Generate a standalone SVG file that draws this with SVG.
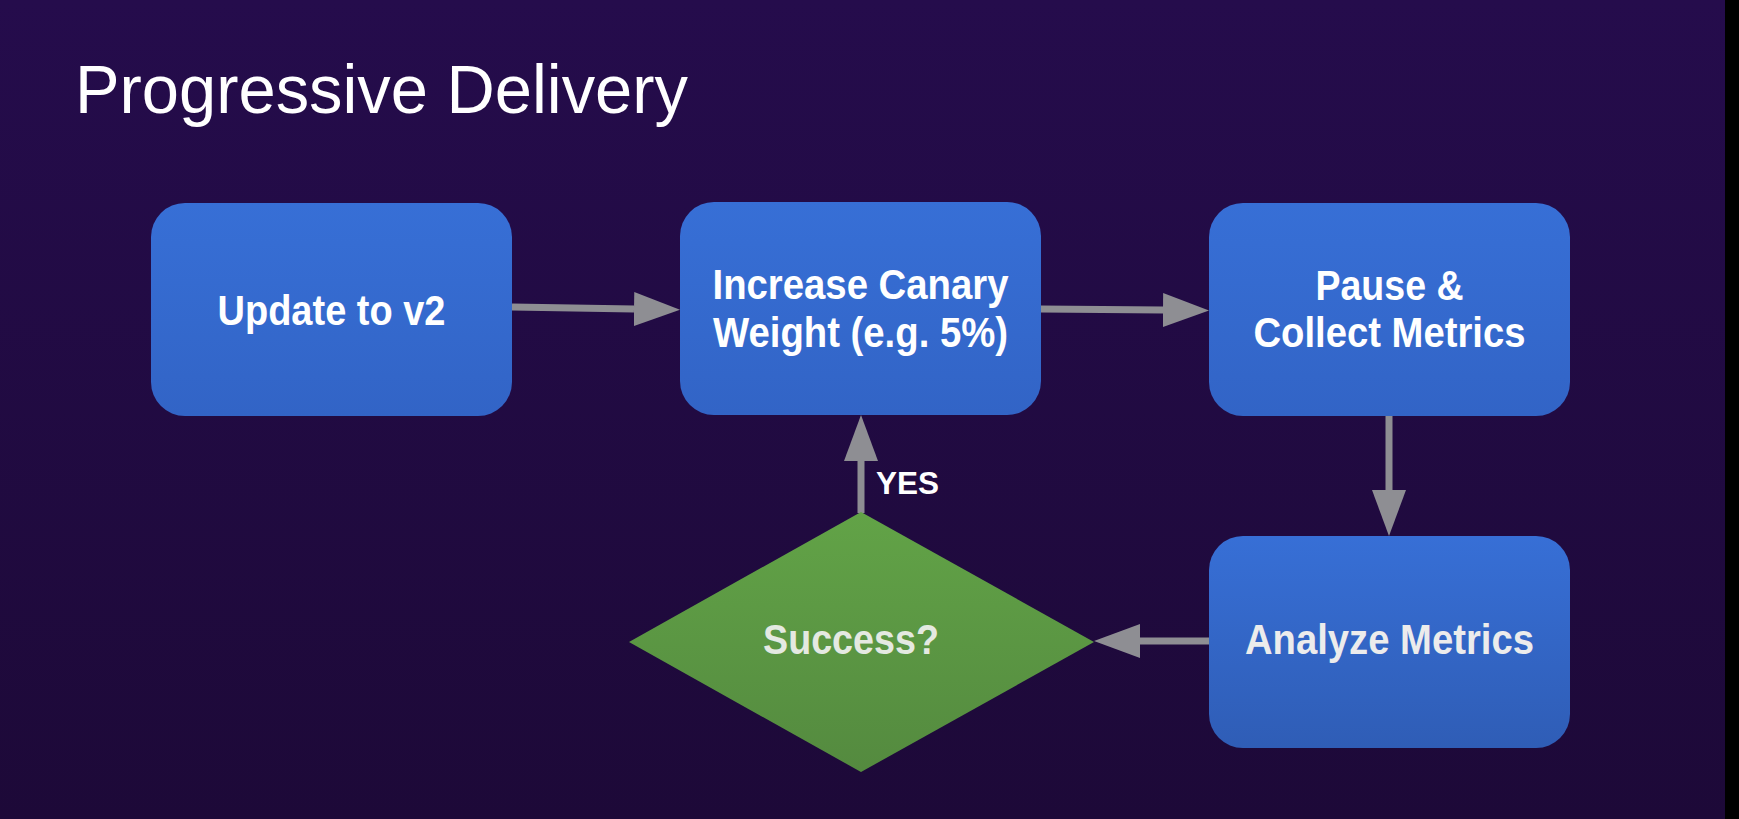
<svg xmlns="http://www.w3.org/2000/svg" width="1739" height="819" viewBox="0 0 1739 819">
  <defs>
    <linearGradient id="bg" x1="0" y1="0" x2="0" y2="1">
      <stop offset="0" stop-color="#250c4c"/>
      <stop offset="1" stop-color="#1d0938"/>
    </linearGradient>
    <linearGradient id="boxfill" x1="0" y1="0" x2="0" y2="1">
      <stop offset="0" stop-color="#376fd6"/>
      <stop offset="1" stop-color="#3264c6"/>
    </linearGradient>
    <linearGradient id="boxfill2" x1="0" y1="0" x2="0" y2="1">
      <stop offset="0" stop-color="#376fd6"/>
      <stop offset="1" stop-color="#2f5db6"/>
    </linearGradient>
    <linearGradient id="greenfill" x1="0" y1="0" x2="0" y2="1">
      <stop offset="0" stop-color="#62a347"/>
      <stop offset="1" stop-color="#548a3f"/>
    </linearGradient>
    <marker id="ah" markerUnits="userSpaceOnUse" viewBox="0 0 46 34" refX="0" refY="17" markerWidth="46" markerHeight="34" orient="auto">
      <polygon points="0,0 46,17 0,34" fill="#8e8e93"/>
    </marker>
  </defs>
  <style>
    .box { stroke: none; }
    .lbl { font-family: "Liberation Sans", Arial, sans-serif; font-weight: bold; font-size: 42px; fill: #ffffff; text-anchor: middle; }
    .conn { stroke: #8e8e93; stroke-width: 7; fill: none; marker-end: url(#ah); }
    .title { font-family: "Liberation Sans", Arial, sans-serif; font-size: 69px; fill: #ffffff; }
    .yes { font-family: "Liberation Sans", Arial, sans-serif; font-weight: bold; font-size: 31px; fill: #ffffff; }
  </style>
  <rect x="0" y="0" width="1739" height="819" fill="url(#bg)"/>
  <rect x="1725" y="0" width="14" height="819" fill="#000000"/>

  <text class="title" x="75" y="113" textLength="613" lengthAdjust="spacingAndGlyphs">Progressive Delivery</text>

  <g id="connectors">
    <path class="conn" d="M512,307 L634,309"/>
    <path class="conn" d="M1041,309 L1163,310"/>
    <path class="conn" d="M1389,416 L1389,490"/>
    <path class="conn" d="M1209,641 L1140,641"/>
    <path class="conn" d="M861,513 L861,461"/>
    <text class="yes" x="876" y="494" textLength="63" lengthAdjust="spacingAndGlyphs">YES</text>
  </g>

  <g id="update">
    <rect class="box" x="151" y="203" width="361" height="213" rx="34" fill="url(#boxfill)"/>
    <text class="lbl" x="331.5" y="325" textLength="228" lengthAdjust="spacingAndGlyphs">Update to v2</text>
  </g>

  <g id="increase">
    <rect class="box" x="680" y="202" width="361" height="213" rx="34" fill="url(#boxfill)"/>
    <text class="lbl" x="860.5" y="299" textLength="296" lengthAdjust="spacingAndGlyphs">Increase Canary</text>
    <text class="lbl" x="860.5" y="347" textLength="295" lengthAdjust="spacingAndGlyphs">Weight (e.g. 5%)</text>
  </g>

  <g id="pause">
    <rect class="box" x="1209" y="203" width="361" height="213" rx="34" fill="url(#boxfill)"/>
    <text class="lbl" x="1389.5" y="300" textLength="148" lengthAdjust="spacingAndGlyphs">Pause &amp;</text>
    <text class="lbl" x="1389.5" y="347" textLength="272" lengthAdjust="spacingAndGlyphs">Collect Metrics</text>
  </g>

  <g id="analyze">
    <rect class="box" x="1209" y="536" width="361" height="212" rx="34" fill="url(#boxfill2)"/>
    <text class="lbl" x="1389.5" y="654" textLength="289" lengthAdjust="spacingAndGlyphs" style="fill:#ececec">Analyze Metrics</text>
  </g>

  <g id="success">
    <polygon points="861,512 1094,642 861,772 629,642" fill="url(#greenfill)"/>
    <text class="lbl" x="851" y="654" textLength="176" lengthAdjust="spacingAndGlyphs" style="fill:#e4e9e1">Success?</text>
  </g>
</svg>
